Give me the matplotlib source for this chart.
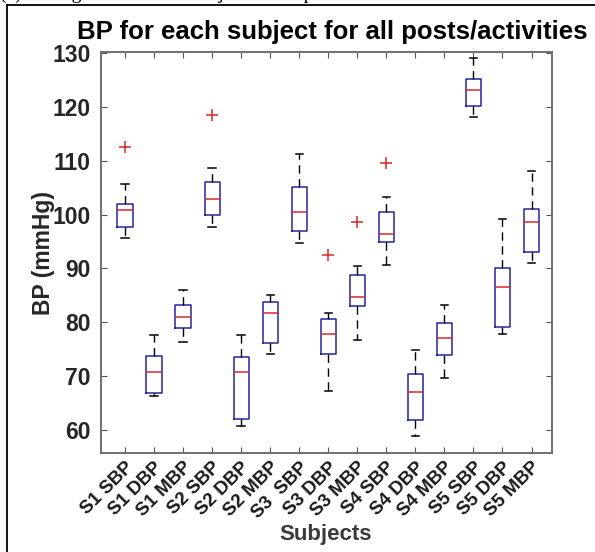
"""
Boxplot of BP (SBP / DBP / MBP) per subject over all postures/activities.
"""

import matplotlib
matplotlib.use('Agg')
import matplotlib.pyplot as plt
from matplotlib.lines import Line2D

# Valores (mmHg)
labels = ['S1 SBP', 'S1 DBP', 'S1 MBP', 'S2 SBP', 'S2 DBP', 'S2 MBP',
          'S3  SBP', 'S3 DBP', 'S3 MBP', 'S4 SBP', 'S4 DBP', 'S4 MBP',
          'S5 SBP', 'S5 DBP', 'S5 MBP']
whislo = [95.6, 66.3, 76.3, 97.6, 60.7, 74.2, 94.8, 67.3, 76.8, 90.7, 58.8, 69.7, 118.2, 77.8, 91.1]
q1 = [97.6, 66.8, 78.9, 99.9, 62.0, 76.2, 97.0, 74.2, 83.1, 94.9, 61.9, 74.0, 120.2, 79.1, 93.0]
med = [100.8, 70.8, 80.9, 102.8, 70.8, 81.7, 100.5, 77.8, 84.7, 96.4, 67.05, 77.1, 123.1, 86.5, 98.7]
q3 = [102.0, 73.7, 83.3, 106.05, 73.5, 83.7, 105.2, 80.6, 88.8, 100.5, 70.4, 79.9, 125.2, 90.0, 101.1]
whishi = [105.6, 77.6, 86.05, 108.6, 77.6, 85.1, 111.2, 81.7, 90.45, 103.2, 74.8, 83.3, 129.1, 99.1, 108.1]
outliers = [[112.5], [], [], [118.4], [], [], [], [92.5], [98.6], [109.5], [], [], [], [], []]

yticks = [60, 70, 80, 90, 100, 110, 120, 130]


def main():
    plt.rcParams['font.family'] = ['Liberation Sans', 'DejaVu Sans']
    plt.rcParams['font.weight'] = 'bold'

    fig = plt.figure(figsize=(5.95, 5.52), dpi=100)
    ax = fig.add_axes([0.169, 0.179, 0.758, 0.727])

    stats = []
    for i in range(len(labels)):
        stats.append({'whislo': whislo[i], 'q1': q1[i], 'med': med[i],
                      'q3': q3[i], 'whishi': whishi[i], 'fliers': outliers[i]})

    pos = list(range(1, len(labels) + 1))
    ax.bxp(stats, positions=pos, widths=0.52, capwidths=0.25,
           showfliers=True,
           boxprops=dict(color='#26269e', linewidth=1.1),
           medianprops=dict(color='#d42a2a', linewidth=1.1),
           whiskerprops=dict(color='black', linewidth=1.0, linestyle=(0, (6, 4))),
           capprops=dict(color='black', linewidth=1.1),
           flierprops=dict(marker='+', markeredgecolor='#d42a2a',
                           markersize=9, markeredgewidth=1.1, linestyle='none'))

    ax.set_xlim(0.16, 15.69)
    ax.set_ylim(55.7, 130.2)
    ax.set_yticks(yticks)
    ax.set_xticks(pos)
    # anclar la esquina superior derecha: las etiquetas quedan algo a la derecha del tick
    ax.set_xticklabels(labels, rotation=45, ha='right', va='top',
                       rotation_mode='anchor', fontsize=13.5, fontweight='bold',
                       color='#1a1a1a')

    ax.tick_params(axis='y', labelsize=16.5, labelcolor='#262626', pad=7)
    ax.tick_params(axis='x', pad=4)
    ax.tick_params(direction='in', length=4, width=0.8, color='#555555',
                   top=True, right=True)

    for sp in ax.spines.values():
        sp.set_color('#707070')
        sp.set_linewidth(1.4)

    ax.set_title('BP for each subject for all posts/activities',
                 fontsize=18.5, fontweight='bold', pad=9, x=0.513)
    ax.set_ylabel('BP (mmHg)', fontsize=16.5, fontweight='bold',
                  color='#262626', labelpad=-2)
    ax.set_xlabel('Subjects', fontsize=16, fontweight='bold',
                  color='#3a3a3a', labelpad=2)

    # Marco del documento y pie de figura recortado arriba
    fig.add_artist(Line2D([7 / 595, 7 / 595], [0, 1 - 5 / 552],
                          transform=fig.transFigure, color='black', linewidth=1.3))
    fig.add_artist(Line2D([7 / 595, 1], [1 - 5 / 552, 1 - 5 / 552],
                          transform=fig.transFigure, color='black', linewidth=1.3))
    fig.text(0.0, 1.0 + 1 / 552, '(a) Average BP for each subject for all postures/activities',
             family=['Liberation Serif', 'DejaVu Serif'], fontweight='normal',
             fontsize=14, va='baseline', ha='left')

    fig.savefig('out.png', dpi=100)
    plt.close(fig)


if __name__ == '__main__':
    main()
